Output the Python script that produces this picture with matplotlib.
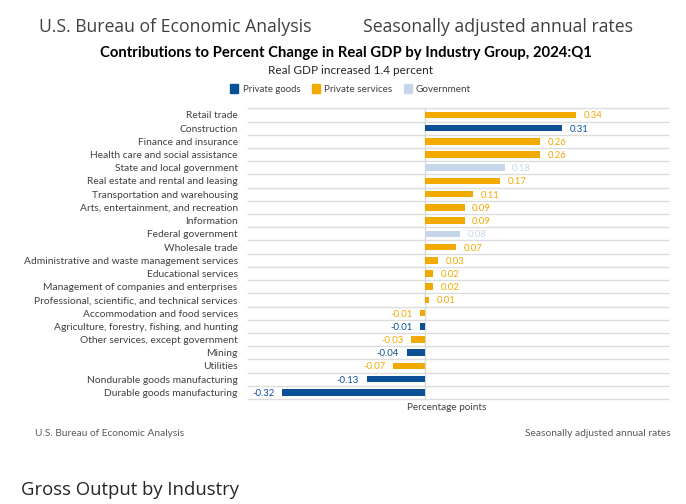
import matplotlib
matplotlib.use('Agg')
import matplotlib.pyplot as plt
from matplotlib.patches import Rectangle
import numpy as np

categories = [
    "Retail trade", "Construction", "Finance and insurance",
    "Health care and social assistance", "State and local government",
    "Real estate and rental and leasing", "Transportation and warehousing",
    "Arts, entertainment, and recreation", "Information", "Federal government",
    "Wholesale trade", "Administrative and waste management services",
    "Educational services", "Management of companies and enterprises",
    "Professional, scientific, and technical services",
    "Accommodation and food services",
    "Agriculture, forestry, fishing, and hunting",
    "Other services, except government", "Mining", "Utilities",
    "Nondurable goods manufacturing", "Durable goods manufacturing",
]
values = [0.34, 0.31, 0.26, 0.26, 0.18, 0.17, 0.11, 0.09, 0.09, 0.08, 0.07,
          0.03, 0.02, 0.02, 0.01, -0.01, -0.01, -0.03, -0.04, -0.07, -0.13, -0.32]
groups = ["services", "goods", "services", "services", "gov", "services",
          "services", "services", "services", "gov", "services", "services",
          "services", "services", "services", "services", "goods", "services",
          "goods", "services", "goods", "goods"]
legend_keys = ["goods", "services", "gov"]
legend_labels = ["Private goods", "Private services", "Government"]
colors = {"goods": "#0B4F96", "services": "#F2A900", "gov": "#C5D6EA"}

W, H = 686, 504
CHART_FONT = "Lato"
HEAD_FONT = "Open Sans"

fig = plt.figure(figsize=(W / 100, H / 100), dpi=100)
fig.patch.set_facecolor("white")

def fx(x):
    return x / W

def fy(y):
    return 1 - y / H

ax = fig.add_axes([fx(246.7), fy(399), (669 - 246.7) / W, (399 - 108.3) / H])
ypos = np.arange(len(categories))
xmin, xmax = -0.4, 0.55
ax.barh(ypos, values, height=0.5, color=[colors[g] for g in groups], zorder=3)
ax.set_xlim(xmin, xmax)
ax.set_ylim(len(categories) - 0.5, -0.5)
ax.hlines(np.arange(len(categories) + 1) - 0.5, xmin, xmax, colors="#DDDDDD",
          lw=1, zorder=1, clip_on=False)
ax.axvline(0, color="#D9D9D9", lw=1, zorder=2)
for s in ax.spines.values():
    s.set_visible(False)
ax.set_xticks([])
ax.set_yticks(ypos)
ax.set_yticklabels(categories, family=CHART_FONT, color="#404040", fontsize=8)
ax.tick_params(axis="y", length=0, pad=6.5)

vlabels = []
for yi, v, g in zip(ypos, values, groups):
    t = ax.annotate(f"{v:.2f}", (v, yi), xytext=(5.5 if v >= 0 else -5.5, 0),
                    textcoords="offset points", ha="left" if v >= 0 else "right",
                    va="center_baseline", color=colors[g], family=CHART_FONT,
                    fontsize=8)
    vlabels.append(t)

texts = []
def ftext(x, y, s, target, ha="left", **kw):
    t = fig.text(fx(x), fy(y), s, ha=ha, va="center_baseline", fontsize=10, **kw)
    texts.append((t, target))
    return t

ftext(39, 25, "U.S. Bureau of Economic Analysis", 273, family=HEAD_FONT, color="#404040")
ftext(363, 25, "Seasonally adjusted annual rates", 271, family=HEAD_FONT, color="#404040")
ftext(346, 51, "Contributions to Percent Change in Real GDP by Industry Group, 2024:Q1",
      494, ha="center", family=CHART_FONT, weight="bold", color="black")
ftext(351, 70, "Real GDP increased 1.4 percent", 164, ha="center",
      family=CHART_FONT, color="#262626")

leg_sq_x = [230, 312, 404]
leg_tx_x = [243, 324, 415]
leg_w = [58, 68, 55]
for k, lab, sx, tx, tw in zip(legend_keys, legend_labels, leg_sq_x, leg_tx_x, leg_w):
    fig.add_artist(Rectangle((fx(sx), fy(93)), 8 / W, 9 / H,
                             transform=fig.transFigure, color=colors[k]))
    ftext(tx, 88, lab, tw, family=CHART_FONT, color="#404040")

ftext(447, 407, "Percentage points", 80, ha="center", family=CHART_FONT, color="#404040")
ftext(35, 432, "U.S. Bureau of Economic Analysis", 149, family=CHART_FONT, color="#595959")
ftext(671, 432, "Seasonally adjusted annual rates", 146, ha="right",
      family=CHART_FONT, color="#595959")
ftext(21, 488, "Gross Output by Industry", 219, family=HEAD_FONT, color="#262626")

fig.canvas.draw()
r = fig.canvas.get_renderer()
for t, target in texts:
    w = t.get_window_extent(r).width
    t.set_fontsize(t.get_fontsize() * target / w)

# fit category labels using the longest label
longest = max(ax.get_yticklabels(), key=lambda t: t.get_window_extent(r).width)
scale = 214 / longest.get_window_extent(r).width
for t in ax.get_yticklabels():
    t.set_fontsize(t.get_fontsize() * scale)
# fit value labels using "0.31"
ref = vlabels[1]
vs = 18.7 / ref.get_window_extent(r).width
for t in vlabels:
    t.set_fontsize(t.get_fontsize() * vs)

fig.savefig("out.png", dpi=100, facecolor="white")
